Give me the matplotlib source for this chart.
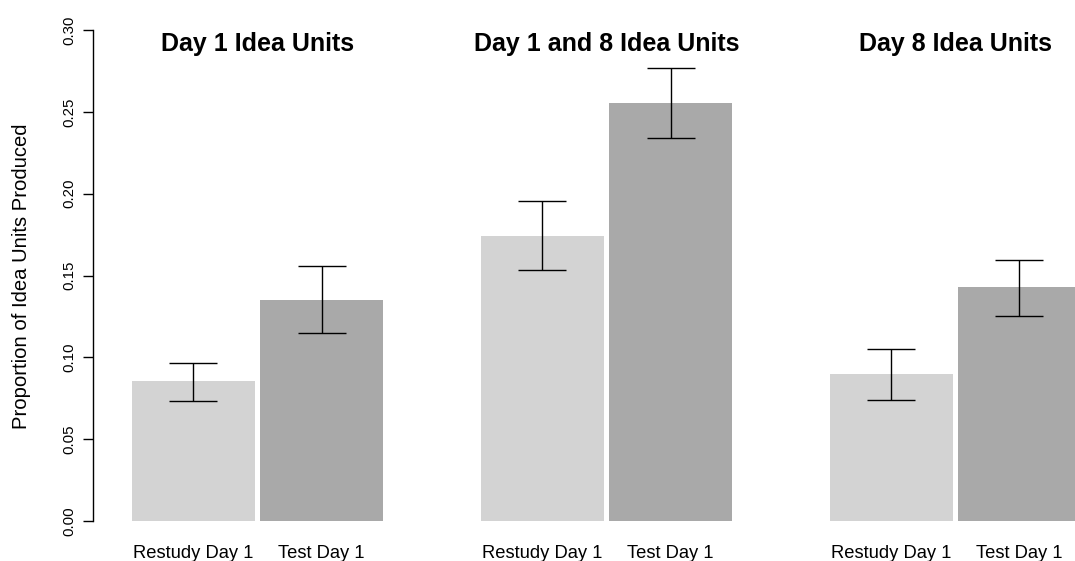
import matplotlib
matplotlib.use('Agg')
import matplotlib.pyplot as plt
import matplotlib.transforms as mtransforms

plt.rcParams['font.family'] = ['Liberation Sans', 'DejaVu Sans']

#Data
group_titles = ['Day 1 Idea Units', 'Day 1 and 8 Idea Units', 'Day 8 Idea Units']
bar_names = ['Restudy Day 1', 'Test Day 1']
restudy_mean = [0.0853, 0.1744, 0.0896]
restudy_low = [0.0735, 0.1532, 0.0738]
restudy_high = [0.0966, 0.1953, 0.1053]
test_mean = [0.1351, 0.2555, 0.1427]
test_low = [0.1150, 0.2343, 0.1254]
test_high = [0.1560, 0.2768, 0.1596]
y_ticks = [0.00, 0.05, 0.10, 0.15, 0.20, 0.25, 0.30]

W, H = 1075, 561
fig = plt.figure(figsize=(W / 100, H / 100), dpi=100)
ax = fig.add_axes([93.3 / W, 40 / H, (W - 93.3) / W, 491 / H])

group_step = 2.843
inner_step = 1.045
x_restudy = [g * group_step for g in range(3)]
x_test = [g * group_step + inner_step for g in range(3)]

ax.bar(x_restudy, restudy_mean, width=1.0, color='#D3D3D3')
ax.bar(x_test, test_mean, width=1.0, color='#A9A9A9')

for xs, m, lo, hi in [(x_restudy, restudy_mean, restudy_low, restudy_high),
                      (x_test, test_mean, test_low, test_high)]:
    yerr = [[mm - l for mm, l in zip(m, lo)], [h - mm for mm, h in zip(m, hi)]]
    ax.errorbar(xs, m, yerr=yerr, fmt='none', ecolor='black',
                elinewidth=1.0, capsize=17.6, capthick=1.0)

ax.set_xlim(-0.8166, 7.1842)
ax.set_ylim(0, 0.30)

for s in ['top', 'right', 'bottom']:
    ax.spines[s].set_visible(False)
ax.spines['left'].set_linewidth(1.0)

ax.set_yticks(y_ticks)
ax.set_yticklabels(['%.2f' % t for t in y_ticks], rotation=90, va='center', fontsize=10.8)
ax.tick_params(axis='y', length=7, width=1.0, pad=5)

xt = []
xl = []
for g in range(3):
    xt += [x_restudy[g], x_test[g]]
    xl += bar_names
ax.set_xticks(xt)
ax.set_xticklabels(xl, fontsize=13.2)
ax.tick_params(axis='x', length=0, pad=17)

fig.text(22 / W, 1 - 276 / H, 'Proportion of Idea Units Produced', rotation=90,
         ha='center', va='center', fontsize=14.6)

trans = mtransforms.blended_transform_factory(ax.transData, fig.transFigure)
for g in range(3):
    cx = (x_restudy[g] + x_test[g]) / 2
    ax.text(cx, 1 - 43.5 / H, group_titles[g], transform=trans, ha='center', va='center',
            fontsize=18, fontweight='bold')

plt.savefig('out.png', dpi=100)
